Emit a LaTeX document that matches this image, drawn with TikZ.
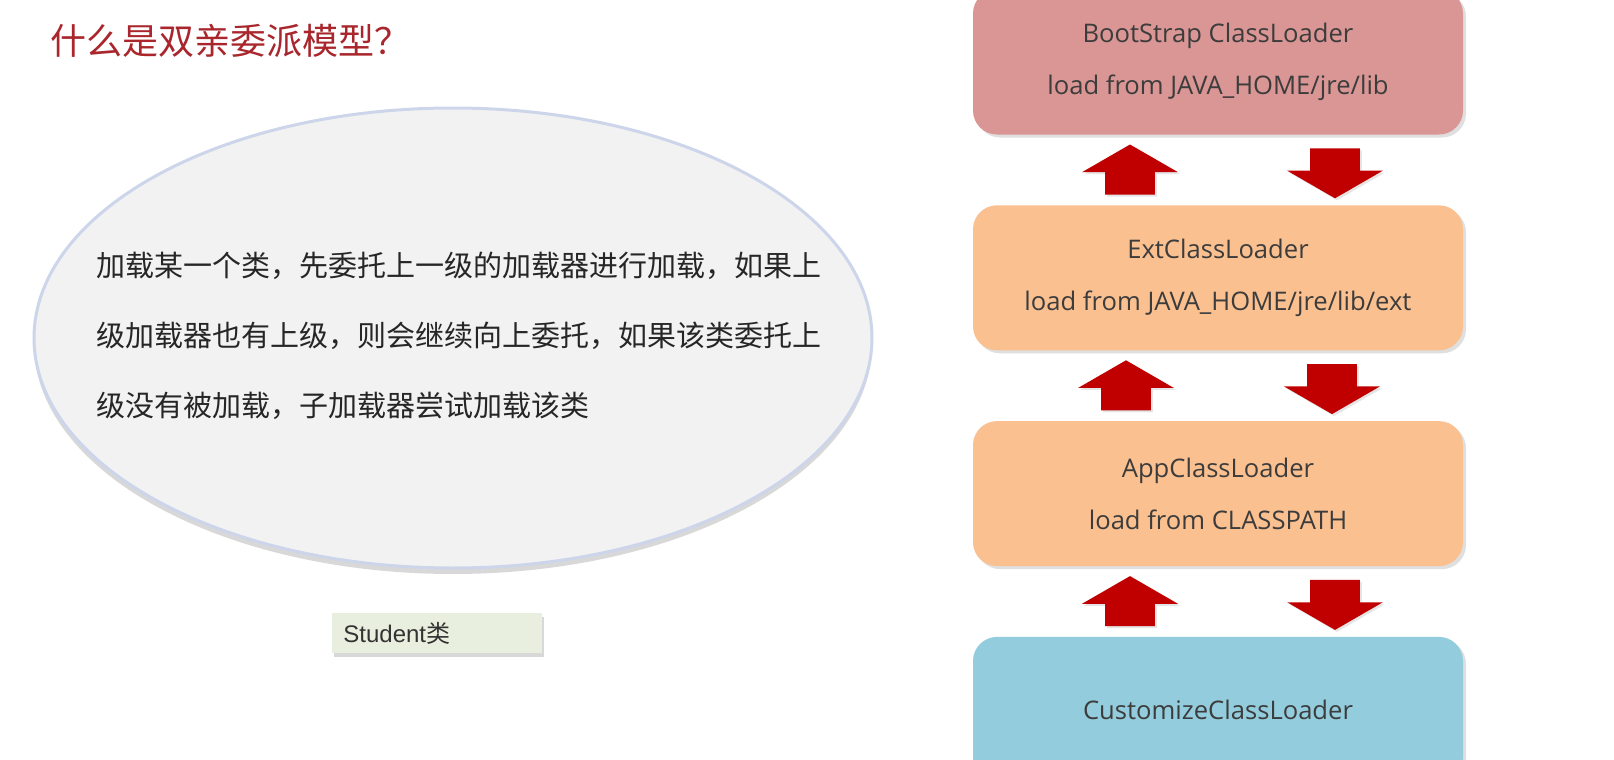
\documentclass[tikz,border=0pt]{standalone}
\usepackage{fontspec}
\usepackage{xcolor}
\usepackage{tikz}
\usetikzlibrary{shapes.geometric, shapes.arrows, positioning, calc, shadows}
\setmainfont{Open Sans}
\newfontfamily\cjk{Noto Sans CJK SC}
\newfontfamily\arialfont{Liberation Sans}
\definecolor{titlered}{RGB}{168, 38, 44}
\definecolor{bootred}{RGB}{217, 150, 148}
\definecolor{extpeach}{RGB}{250, 192, 144}
\definecolor{custblue}{RGB}{147, 205, 221}
\definecolor{arrowred}{RGB}{192, 0, 0}
\definecolor{bubblegray}{RGB}{242, 242, 242}
\definecolor{bubbleedge}{RGB}{205, 213, 235}
\definecolor{notegreen}{RGB}{233, 239, 222}
\definecolor{boxtext}{RGB}{60, 60, 60}

\tikzset{
    loaderbox/.style={rectangle, rounded corners=12pt, minimum width=245pt, minimum height=72.5pt,
        align=center, text=boxtext, font=\fontsize{12.8pt}{26pt}\selectfont,
        drop shadow={shadow xshift=1.5pt, shadow yshift=-1.5pt, opacity=0.25}},
    uparrow/.style={single arrow, rotate=90, anchor=tail, fill=arrowred, inner xsep=0pt, inner ysep=12.25pt,
        minimum height=25pt, single arrow head extend=11.5pt, single arrow tip angle=120,
        drop shadow={shadow xshift=1pt, shadow yshift=-1pt, opacity=0.2}},
    downarrow/.style={uparrow, rotate=180}
}

\begin{document}
\begin{tikzpicture}[x=0.5pt, y=-0.5pt]
    \useasboundingbox (0,0) rectangle (1614,760);
    \clip (0,0) rectangle (1614,760);
    \fill[white] (0,0) rectangle (1614,760);

    % title
    \node[anchor=west, inner sep=0pt, text=titlered, font=\cjk\fontsize{18pt}{18pt}\selectfont] (title) at (50,41) {什么是双亲委派模型？};

    % speech bubble
    \node[ellipse, draw=bubbleedge, line width=1.5pt, fill=bubblegray, minimum width=419pt, minimum height=230pt,
        drop shadow={shadow xshift=0pt, shadow yshift=-3pt, opacity=0.3}] (bubble) at (453,338) {};
    \node[align=left, inner sep=0pt, text=black!85, font=\cjk\fontsize{14.5pt}{35pt}\selectfont] (bubbletext) at ($(bubble.center) + (6,-2)$)
        {加载某一个类，先委托上一级的加载器进行加载，如果上\\级加载器也有上级，则会继续向上委托，如果该类委托上\\级没有被加载，子加载器尝试加载该类};

    \node[anchor=north west, fill=notegreen, minimum width=105pt, minimum height=20pt, text=black!80,
        font=\arialfont\fontsize{12pt}{12pt}\selectfont, text width=94pt, inner xsep=5.5pt, align=left,
        drop shadow={shadow xshift=1pt, shadow yshift=-2pt, opacity=0.3}] (student) at (332,613)
        {Student{\cjk 类}};

    % class loader chain
    \node[loaderbox, fill=bootred] (boot) at (1218,62) {BootStrap ClassLoader\\load from JAVA\_HOME/jre/lib};
    \node[loaderbox, fill=extpeach, below=35pt of boot] (ext) {ExtClassLoader\\load from JAVA\_HOME/jre/lib/ext};
    \node[loaderbox, fill=extpeach, below=35pt of ext] (app) {AppClassLoader\\load from CLASSPATH};
    \node[loaderbox, fill=custblue, below=35pt of app] (cust) {CustomizeClassLoader};

    \node[uparrow] (up1) at ($(boot.south)!0.5!(ext.north) + (-88,25)$) {};
    \node[downarrow] (down1) at ($(boot.south)!0.5!(ext.north) + (117,-22)$) {};
    \node[uparrow] (up2) at ($(ext.south)!0.5!(app.north) + (-92,25)$) {};
    \node[downarrow] (down2) at ($(ext.south)!0.5!(app.north) + (114,-22)$) {};
    \node[uparrow] (up3) at ($(app.south)!0.5!(cust.north) + (-88,25)$) {};
    \node[downarrow] (down3) at ($(app.south)!0.5!(cust.north) + (117,-22)$) {};
\end{tikzpicture}
\end{document}
